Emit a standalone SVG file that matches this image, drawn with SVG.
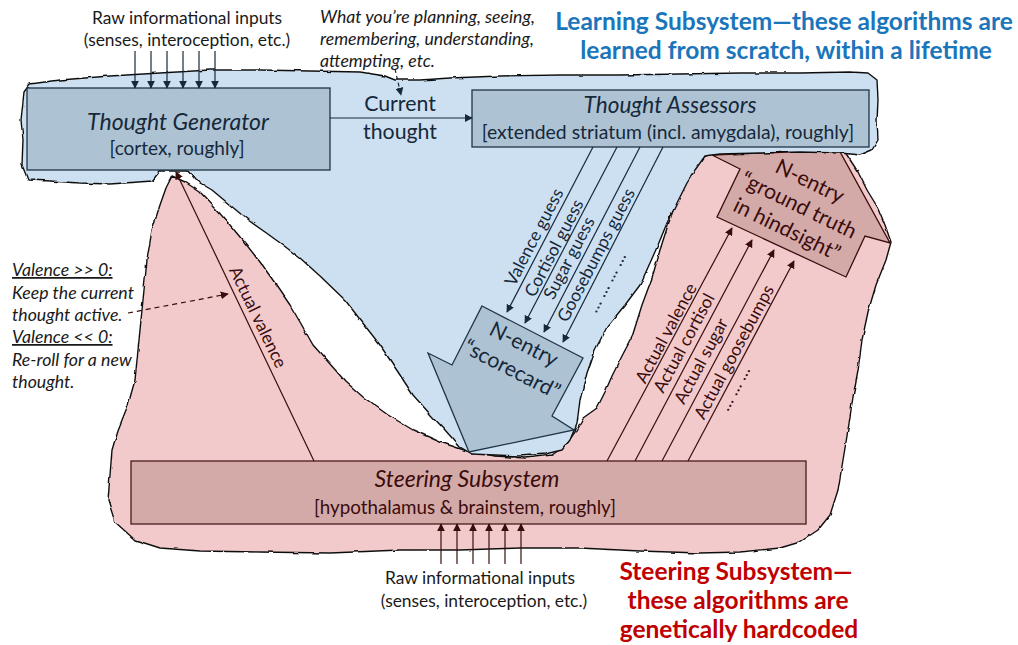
<svg xmlns="http://www.w3.org/2000/svg" width="1018" height="645" viewBox="0 0 1018 645">
  <style>
    .region { stroke: #111; stroke-width: 1.4; stroke-linejoin: round; }
    .learn { fill: #cde0f1; }
    .steer { fill: #f2cacb; }
    .bbox { fill: #adc3d4; stroke: #1f3446; stroke-width: 1.3; }
    .pbox { fill: #d4aaa9; stroke: #4a1b1b; stroke-width: 1.3; }
    .txt { font-family: Lato, "Open Sans", sans-serif; }
    .navy { fill: #16283a; }
    .maroon { fill: #3a0c0c; }
    .ink { fill: #1a1a1a; }
    .lbl { font-size: 17.4px; text-anchor: middle; }
    .big { font-size: 21.3px; text-anchor: middle; }
    .head { font-size: 23px; font-style: italic; text-anchor: middle; }
    .sub { font-size: 19px; text-anchor: middle; }
    .note { font-size: 17.7px; font-style: italic; }
    .title { font-size: 24.5px; font-weight: bold; text-anchor: middle; }
    .nline { stroke: #16283a; stroke-width: 1.2; fill: none; }
    .mline { stroke: #3a0c0c; stroke-width: 1.2; fill: none; }
  </style>
  <defs>
    <marker id="headNavy" viewBox="0 0 10 10" refX="9" refY="5" markerWidth="8" markerHeight="8" markerUnits="userSpaceOnUse" orient="auto">
      <path d="M0,0 L10,5 L0,10 z" fill="#16283a"/>
    </marker>
    <marker id="headMaroon" viewBox="0 0 10 10" refX="9" refY="5" markerWidth="8" markerHeight="8" markerUnits="userSpaceOnUse" orient="auto">
      <path d="M0,0 L10,5 L0,10 z" fill="#3a0c0c"/>
    </marker>
    <filter id="rough" x="-5%" y="-5%" width="110%" height="110%">
      <feTurbulence type="fractalNoise" baseFrequency="0.08" numOctaves="2" seed="3" result="n"/>
      <feDisplacementMap in="SourceGraphic" in2="n" scale="3" xChannelSelector="R" yChannelSelector="G"/>
    </filter>
  </defs>

  <!-- Steering subsystem region (pink) -->
  <g id="steering-region">
    <path class="region steer" filter="url(#rough)" d="M172,176 L185,182 L200,192 L215,208 L230,225 L245,243 L260,262 L275,283 L290,305 L300,322 L313,345 L330,364 L345,381 L363,397 L388,415 L413,430 L440,442 L467,451 L495,456 L525,458 L552,455 L565,446 L575,432 L583,418 L597,408 L605,392 L612,376 L622,356 L632,337 L642,305 L652,278 L660,250 L668,225 L675,205 L685,180 L695,162 L712,153 L740,151 L780,150 L820,150 L845,152 L858,172 L867,190 L878,208 L885,225 L891,242 L886,260 L876,285 L868,312 L862,340 L858,370 L853,397 L848,430 L843,460 L838,490 L830,515 L818,530 L800,542 L780,548 L740,552 L700,553 L640,551 L580,548 L520,548 L460,550 L400,550 L330,553 L260,552 L200,551 L160,548 L135,540 L115,522 L108,500 L110,475 L112,450 L118,430 L128,405 L135,380 L138,350 L141,320 L144,290 L147,260 L152,230 L160,205 L166,188 Z"/>
  </g>

  <!-- Ground truth arrow (sits under the learning region edge) -->
  <g id="ground-truth">
    <polygon points="712,155 740,169 717,217 846,277 865,236 890,243 839,150" fill="#d4aaa9" stroke="#3a0c0c" stroke-width="1.3" stroke-linejoin="miter"/>
    <g class="txt maroon big">
      <text transform="translate(810,181) rotate(26)" y="7.5">N-entry</text>
      <text transform="translate(799,205) rotate(26)" y="7.5">“ground truth</text>
      <text transform="translate(787,229) rotate(26)" y="7.5">in hindsight”</text>
    </g>
  </g>

  <!-- Learning subsystem region (blue) -->
  <g id="learning-region">
    <path class="region learn" filter="url(#rough)" d="M24,92 L30,84 L60,80 L110,76 L160,73 L210,70 L260,70 L310,71 L360,72 L385,76 L395,80 L420,80 L450,78 L500,76 L560,75 L620,75 L680,74 L740,73 L800,73 L850,72 L868,73 L877,80 L878,100 L877,120 L878,140 L872,150 L860,155 L840,153 L800,152 L760,153 L720,154 L705,156 L695,170 L687,183 L677,203 L667,223 L658,245 L650,263 L640,285 L625,305 L607,327 L595,350 L587,373 L580,400 L577,423 L570,440 L562,450 L545,454 L520,456 L495,455 L472,454 L460,447 L445,430 L430,414 L413,395 L400,375 L380,345 L362,322 L345,300 L320,276 L300,258 L283,245 L265,232 L248,220 L230,205 L212,190 L195,180 L188,171 L160,171 L152,181 L110,184 L80,183 L50,181 L28,180 L22,165 L23,140 L21,120 Z"/>
  </g>

  <!-- Scorecard arrow -->
  <g id="scorecard">
    <polygon points="482,306 583,358 552,416 574,430 469,452 428,353 452,365" fill="#adc3d4" stroke="#1f3446" stroke-width="1.3"/>
    <g class="txt navy big">
      <text transform="translate(524,344) rotate(27)" y="7.5">N-entry</text>
      <text transform="translate(512,369) rotate(27)" y="7.5">“scorecard”</text>
    </g>
  </g>

  <!-- Thought Generator -->
  <g id="thought-generator">
    <rect class="bbox" x="27" y="88" width="303" height="82"/>
    <text class="txt navy head" x="178" y="130">Thought Generator</text>
    <text class="txt navy sub" x="177" y="155">[cortex, roughly]</text>
  </g>

  <!-- Thought Assessors -->
  <g id="thought-assessors">
    <rect class="bbox" x="472" y="90" width="397" height="57"/>
    <text class="txt navy head" x="670" y="113" style="font-size:22.6px">Thought Assessors</text>
    <text class="txt navy sub" x="668" y="139" style="font-size:19.4px">[extended striatum (incl. amygdala), roughly]</text>
  </g>

  <!-- Steering Subsystem box -->
  <g id="steering-subsystem">
    <rect class="pbox" x="131" y="461" width="675" height="63"/>
    <text class="txt maroon head" x="467" y="487">Steering Subsystem</text>
    <text class="txt maroon sub" x="465" y="514" style="font-size:18.8px">[hypothalamus &amp; brainstem, roughly]</text>
  </g>

  <!-- Connectors -->
  <g id="connectors">
    <!-- raw inputs into the thought generator -->
    <g class="nline" marker-end="url(#headNavy)">
      <line x1="135" y1="51" x2="135" y2="88"/>
      <line x1="151" y1="51" x2="151" y2="88"/>
      <line x1="167" y1="51" x2="167" y2="88"/>
      <line x1="183" y1="51" x2="183" y2="88"/>
      <line x1="199" y1="51" x2="199" y2="88"/>
      <line x1="215" y1="51" x2="215" y2="88"/>
    </g>
    <!-- current thought -->
    <line class="nline" x1="330" y1="118" x2="472" y2="118" marker-end="url(#headNavy)"/>
    <!-- note pointer -->
    <line class="nline" x1="395" y1="69" x2="401" y2="95" stroke-dasharray="4,3" marker-end="url(#headNavy)"/>
    <!-- guesses into the scorecard -->
    <g class="nline" marker-end="url(#headNavy)">
      <line x1="593" y1="147" x2="507" y2="312"/>
      <line x1="617" y1="147" x2="525" y2="323"/>
      <line x1="640" y1="147" x2="544" y2="332"/>
      <line x1="663" y1="147" x2="563" y2="342"/>
    </g>
    <!-- actual values into the ground truth -->
    <g class="mline" marker-end="url(#headMaroon)">
      <line x1="607" y1="461" x2="732" y2="228"/>
      <line x1="635" y1="461" x2="752" y2="240"/>
      <line x1="662" y1="461" x2="774" y2="250"/>
      <line x1="688" y1="461" x2="794" y2="261"/>
    </g>
    <!-- actual valence up to the thought generator -->
    <line class="mline" x1="314" y1="461" x2="176" y2="172" marker-end="url(#headMaroon)"/>
    <!-- keep / re-roll pointer -->
    <line class="mline" x1="128" y1="313" x2="228" y2="294" stroke-dasharray="5,4" marker-end="url(#headMaroon)"/>
    <!-- raw inputs into the steering subsystem -->
    <g class="mline" marker-end="url(#headMaroon)">
      <line x1="441" y1="564" x2="441" y2="524"/>
      <line x1="457" y1="564" x2="457" y2="524"/>
      <line x1="473" y1="564" x2="473" y2="524"/>
      <line x1="489" y1="564" x2="489" y2="524"/>
      <line x1="505" y1="564" x2="505" y2="524"/>
      <line x1="521" y1="564" x2="521" y2="524"/>
    </g>
  </g>

  <!-- Connector labels -->
  <g id="connector-labels" class="txt">
    <text class="navy big" x="400" y="111">Current</text>
    <text class="navy big" x="400" y="139">thought</text>

    <g class="navy lbl">
      <text transform="translate(534,237) rotate(-62.5)" y="6">Valence guess</text>
      <text transform="translate(554,248) rotate(-62.5)" y="6">Cortisol guess</text>
      <text transform="translate(569,258) rotate(-62.5)" y="6">Sugar guess</text>
      <text transform="translate(596,255) rotate(-62.5)" y="6">Goosebumps guess</text>
      <text transform="translate(606,282) rotate(-62.5)" y="6">… … … …</text>
    </g>

    <g class="maroon lbl">
      <text transform="translate(666,333) rotate(-61.7)" y="6">Actual valence</text>
      <text transform="translate(684,343) rotate(-61.7)" y="6">Actual cortisol</text>
      <text transform="translate(701,361) rotate(-61.7)" y="6">Actual sugar</text>
      <text transform="translate(734,352) rotate(-61.7)" y="6">Actual goosebumps</text>
      <text transform="translate(734,388) rotate(-61.7)" y="6">… … …</text>
      <text transform="translate(258,317) rotate(64.3)" y="6">Actual valence</text>
    </g>
  </g>

  <!-- Free-standing notes -->
  <g id="notes" class="txt">
    <text class="ink lbl" x="187" y="24">Raw informational inputs</text>
    <text class="ink lbl" x="187" y="46">(senses, interoception, etc.)</text>

    <text class="ink note" x="320" y="23">What you’re planning, seeing,</text>
    <text class="ink note" x="320" y="45">remembering, understanding,</text>
    <text class="ink note" x="320" y="67">attempting, etc.</text>

    <text class="ink note" x="12" y="276" text-decoration="underline">Valence &gt;&gt; 0:</text>
    <text class="ink note" x="12" y="299">Keep the current</text>
    <text class="ink note" x="12" y="321">thought active.</text>
    <text class="ink note" x="12" y="343" text-decoration="underline">Valence &lt;&lt; 0:</text>
    <text class="ink note" x="12" y="366">Re-roll for a new</text>
    <text class="ink note" x="12" y="388">thought.</text>

    <text class="ink lbl" x="480" y="584">Raw informational inputs</text>
    <text class="ink lbl" x="484" y="607">(senses, interoception, etc.)</text>

    <text class="title" x="784" y="30" fill="#1b75bb">Learning Subsystem—these algorithms are</text>
    <text class="title" x="786" y="59" fill="#1b75bb">learned from scratch, within a lifetime</text>

    <text class="title" x="736" y="580" fill="#c00000">Steering Subsystem—</text>
    <text class="title" x="738" y="609" fill="#c00000">these algorithms are</text>
    <text class="title" x="739" y="638" fill="#c00000">genetically hardcoded</text>
  </g>
</svg>
